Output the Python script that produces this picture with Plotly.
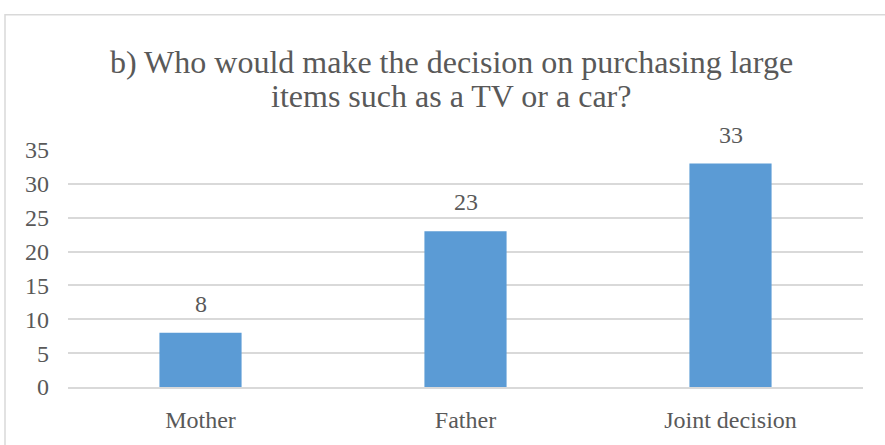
import plotly.graph_objects as go

# Survey answers: who makes the decision on large purchases
categories = ["Mother", "Father", "Joint decision"]
counts = [8, 23, 33]
y_ticks = [0, 5, 10, 15, 20, 25, 30, 35]
title_lines = [
    "b) Who would make the decision on purchasing large",
    "items such as a TV or a car?",
]

TEXT = "#595959"
FONT = "Liberation Serif, Times New Roman, serif"

W, H = 885, 445
L, R, T, B = 68, 22, 150, 53
pw, ph = W - L - R, H - T - B


def paper_y(py):
    return (T + ph - py) / ph


fig = go.Figure(
    go.Bar(
        x=categories,
        y=counts,
        marker=dict(color="#5B9BD5", line=dict(width=0)),
        width=0.31,
        hoverinfo="x+y",
    )
)

# value labels above each bar
for c, v in zip(categories, counts):
    fig.add_annotation(
        x=c, y=v, text=str(v), showarrow=False,
        yanchor="bottom", yshift=14,
        font=dict(family=FONT, size=24, color=TEXT),
    )

# two-line chart title, set with tighter line spacing
for line, py in zip(title_lines, [60, 95]):
    fig.add_annotation(
        x=(451 - L) / pw, y=paper_y(py), xref="paper", yref="paper",
        text=line, showarrow=False, xanchor="center", yanchor="middle",
        font=dict(family=FONT, size=32, color=TEXT),
    )

# thin frame around the chart area
fig.add_shape(
    type="rect", xref="paper", yref="paper",
    x0=(5 - L) / pw, x1=(W + 10 - L) / pw,
    y0=paper_y(H + 10), y1=paper_y(12),
    line=dict(color="#D9D9D9", width=1.5), layer="below",
)

fig.update_layout(
    width=W, height=H,
    margin=dict(l=L, r=R, t=T, b=B),
    paper_bgcolor="white", plot_bgcolor="white",
    showlegend=False,
    font=dict(family=FONT, color=TEXT),
)

fig.update_yaxes(
    range=[0, 35], tickvals=y_ticks, ticks="",
    showgrid=True, gridcolor="#D9D9D9", gridwidth=1.5,
    zeroline=False, showline=False,
    tickfont=dict(family=FONT, size=24, color=TEXT),
    ticklabelstandoff=18,
)
fig.update_xaxes(
    ticks="", showline=True, linecolor="#D9D9D9", linewidth=1.5,
    tickfont=dict(family=FONT, size=24, color=TEXT),
    ticklabelstandoff=10,
)

fig.write_html("out.html")
